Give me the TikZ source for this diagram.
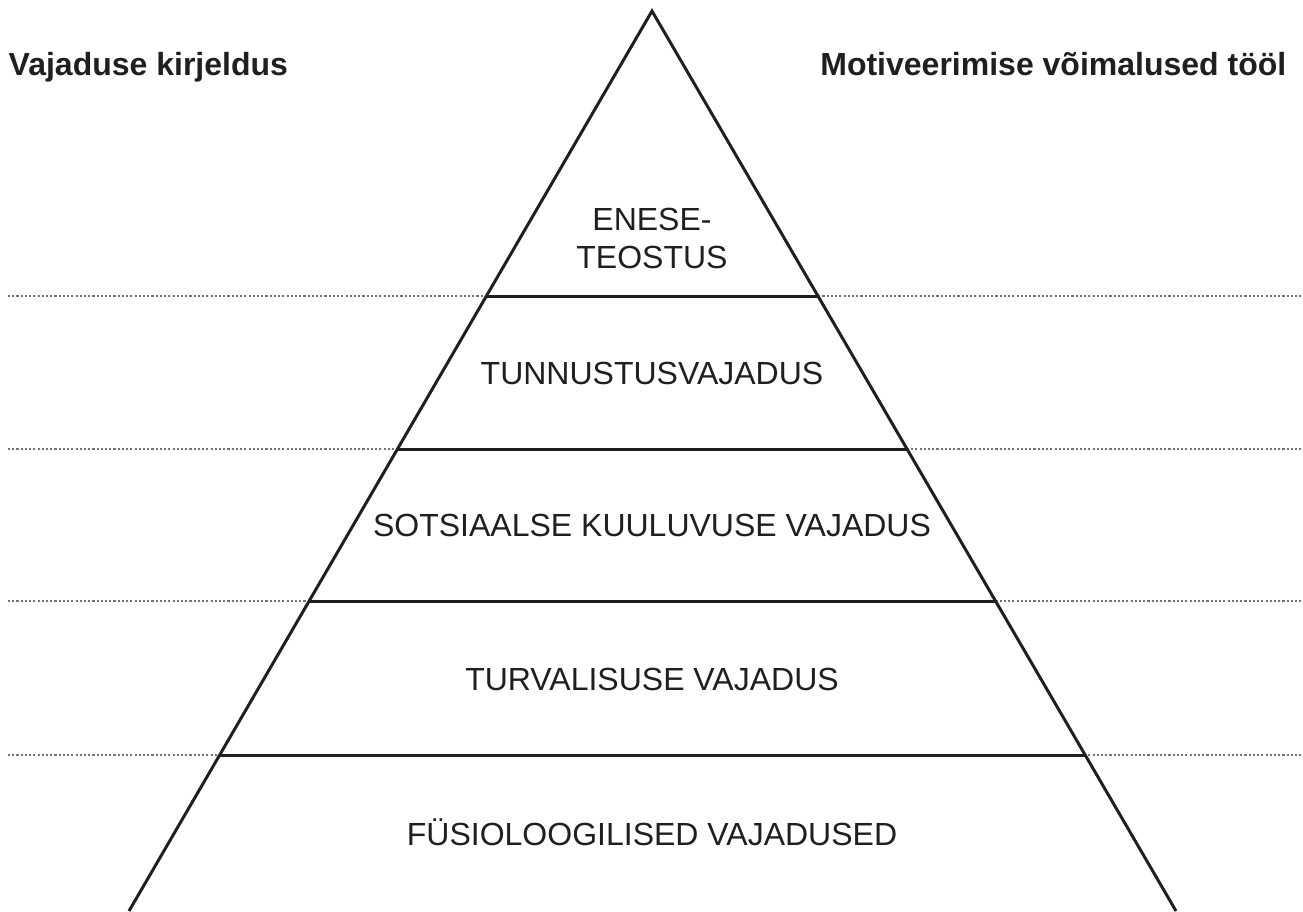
\documentclass[tikz,border=0pt]{standalone}
\usepackage{fontspec}
\setmainfont{Liberation Sans}
\usetikzlibrary{calc}

\begin{document}
\begin{tikzpicture}[
    x=0.01cm, y=-0.01cm,
    side/.style={line width=0.85pt, draw=black!88, line join=miter},
    level/.style={line width=0.85pt, draw=black!88},
    guide/.style={line width=0.35pt, draw=black!55, dash pattern=on 0.6pt off 0.6pt},
    heading/.style={font=\fontsize{9.1}{10.8}\selectfont\bfseries, text=black!88, inner sep=0pt},
    need/.style={font=\fontsize{9.1}{10.8}\selectfont, text=black!88, align=center, inner sep=0pt}
]
    \useasboundingbox (0,0) rectangle (1303,911);

    % pyramid corners
    \coordinate (apex) at (652,11);
    \coordinate (bl) at (129,911);
    \coordinate (br) at (1176,911);

    % dotted guides
    \coordinate (g1l) at (8,296);  \coordinate (g1r) at (1303,296);
    \coordinate (g2l) at (8,449);  \coordinate (g2r) at (1303,449);
    \coordinate (g3l) at (8,601);  \coordinate (g3r) at (1303,601);
    \coordinate (g4l) at (8,755);  \coordinate (g4r) at (1303,755);
    \draw[guide] (g1l) -- (g1r);
    \draw[guide] (g2l) -- (g2r);
    \draw[guide] (g3l) -- (g3r);
    \draw[guide] (g4l) -- (g4r);

    % levels
    \coordinate (l1l) at ($(apex)!0.3167!(bl)$); \coordinate (l1r) at ($(apex)!0.3167!(br)$);
    \coordinate (l2l) at ($(apex)!0.4867!(bl)$); \coordinate (l2r) at ($(apex)!0.4867!(br)$);
    \coordinate (l3l) at ($(apex)!0.6556!(bl)$); \coordinate (l3r) at ($(apex)!0.6556!(br)$);
    \coordinate (l4l) at ($(apex)!0.8267!(bl)$); \coordinate (l4r) at ($(apex)!0.8267!(br)$);

    \draw[side] (bl) -- (apex) -- (br);
    \draw[level] (l1l) -- (l1r);
    \draw[level] (l2l) -- (l2r);
    \draw[level] (l3l) -- (l3r);
    \draw[level] (l4l) -- (l4r);

    % headings
    \node[heading, anchor=base west] (desc) at (8,75) {Vajaduse kirjeldus};
    \node[heading, anchor=base east] (motiv) at (1287,75) {Motiveerimise võimalused tööl};

    % needs
    \node[need, anchor=base] (self) at (652,268) {ENESE-\\TEOSTUS};
    \node[need, anchor=base] (esteem) at (652,384) {TUNNUSTUSVAJADUS};
    \node[need, anchor=base] (social) at (652,536) {SOTSIAALSE KUULUVUSE VAJADUS};
    \node[need, anchor=base] (safety) at (652,690) {TURVALISUSE VAJADUS};
    \node[need, anchor=base] (body) at (652,845) {FÜSIOLOOGILISED VAJADUSED};
\end{tikzpicture}
\end{document}
